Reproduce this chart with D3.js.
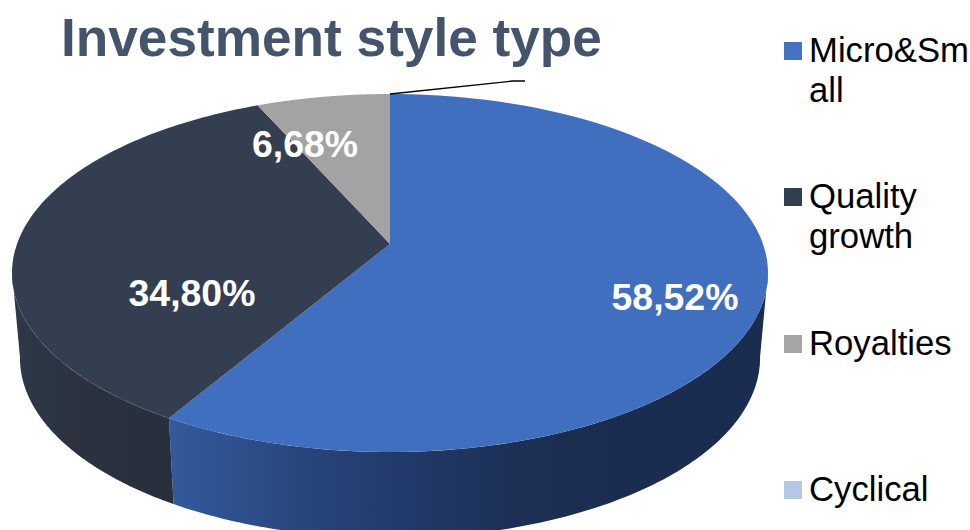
<!DOCTYPE html>
<html>
<head>
<meta charset="utf-8">
<script src="https://cdn.jsdelivr.net/npm/d3@7"></script>
<style>
  html, body { margin: 0; padding: 0; background: #fff; overflow: hidden; }
  svg { display: block; font-family: "Liberation Sans", Arial, sans-serif; }
</style>
</head>
<body>
<svg id="chart" width="970" height="530"></svg>
<script>
// Portfolio split by investment style
const categories = ["Micro&Small", "Quality growth", "Royalties", "Cyclical"];
const shares = [58.52, 34.80, 6.68, 0];
const shareLabels = ["58,52%", "34,80%", "6,68%"];
const legendLines = [["Micro&Sm", "all"], ["Quality", "growth"], ["Royalties"], ["Cyclical"]];
const topColors = ["#416fbf", "#333f50", "#a3a3a3", "#b4c7e7"];
const legendColors = ["#4472c4", "#333f50", "#a5a5a5", "#b4c7e7"];

const svg = d3.select("#chart");
const defs = svg.append("defs");

// Tilted disc: a perspective projection of the unit circle onto the top face
const W = { cx: 390, cy: 244, a: 373, b: 174.3, p: -0.162 };
const project = t => {
  const u = Math.sin(t), v = -Math.cos(t), k = 1 + W.p * v;
  return [W.cx + W.a * u / k, W.cy + W.b * v / k];
};
// The base of the disc sits lower and a touch narrower than its top face
const base = ([x, y]) => [390 + (x - 390) * 0.979, 358 + (y - 273) * 1.006];

const arcs = d3.pie().value(d => d).sort(null)(shares);
const line = d3.line();
const sample = (a0, a1) => d3.range(0, 121).map(i => a0 + (a1 - a0) * i / 120);

// The wall is only visible between the disc's left and right extremes
const turn = sample(0, 2 * Math.PI);
const rightmost = turn[d3.greatest(d3.range(turn.length), i => project(turn[i])[0])];
const leftmost = turn[d3.least(d3.range(turn.length), i => project(turn[i])[0])];

// Side wall shading runs left to right
const wallStops = [
  [[175, "#33599c"], [300, "#28467c"], [400, "#223a6b"], [520, "#1c3055"], [620, "#1a2c4f"], [770, "#1a2c4f"]],
  [[12, "#2d3949"], [70, "#2b3340"], [172, "#282f3c"]]
];
wallStops.forEach((stops, i) => {
  const g = defs.append("linearGradient").attr("id", "wall" + i)
    .attr("gradientUnits", "userSpaceOnUse")
    .attr("x1", 0).attr("x2", 970).attr("y1", 0).attr("y2", 0);
  stops.forEach(([x, c]) => g.append("stop").attr("offset", x / 970).attr("stop-color", c));
});

// Walls first, then the top faces over them
arcs.slice(0, 2).forEach((d, i) => {
  const from = Math.max(d.startAngle, rightmost);
  const to = Math.min(d.endAngle, leftmost);
  const rim = sample(from, to).map(project);
  svg.append("path")
    .attr("d", line(rim.concat(rim.map(base).reverse())) + "Z")
    .attr("fill", `url(#wall${i})`);
});

arcs.slice(0, 3).forEach((d, i) => {
  const rim = sample(d.startAngle, d.endAngle).map(project);
  svg.append("path")
    .attr("d", line([[W.cx, W.cy], ...rim]) + "Z")
    .attr("fill", topColors[i]);
});

// Leader line from the empty Cyclical slice
const leaderStart = project(arcs[3].startAngle);
svg.append("path")
  .attr("d", line([leaderStart, [513, 81], [525, 81]]))
  .attr("fill", "none").attr("stroke", "#000").attr("stroke-width", 1.3);

// Value labels
const labelPos = [[675, 310], [192, 306], [305, 157]];
svg.selectAll("text.value").data(shareLabels).join("text")
  .attr("class", "value")
  .attr("x", (d, i) => labelPos[i][0]).attr("y", (d, i) => labelPos[i][1])
  .attr("text-anchor", "middle").attr("font-size", 37.4).attr("font-weight", 700)
  .attr("fill", "#fff").text(d => d);

// Title
svg.append("text").attr("x", 61).attr("y", 56)
  .attr("font-size", 53.2).attr("font-weight", 700).attr("fill", "#44546a")
  .text("Investment style type");

// Legend
const legendY = [42, 188, 335, 481];
const legend = svg.selectAll("g.legend").data(categories).join("g").attr("class", "legend");
legend.append("rect")
  .attr("x", 784).attr("y", (d, i) => legendY[i])
  .attr("width", 18).attr("height", 18)
  .attr("fill", (d, i) => legendColors[i]);
legend.each(function (d, i) {
  d3.select(this).selectAll("text").data(legendLines[i]).join("text")
    .attr("x", 809).attr("y", (t, j) => legendY[i] + 20 + j * 39.5)
    .attr("font-size", 34.7).attr("fill", "#000").text(t => t);
});
</script>
</body>
</html>
